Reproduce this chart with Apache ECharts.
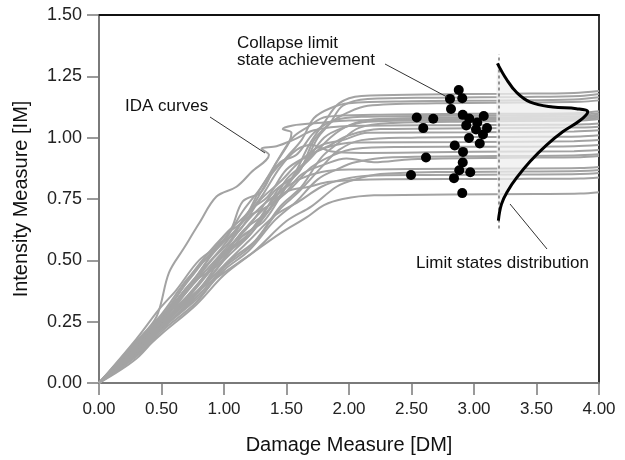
<!DOCTYPE html>
<html><head><meta charset="utf-8">
<script src="https://cdn.jsdelivr.net/npm/echarts@6/dist/echarts.min.js"></script>
<style>html,body{margin:0;padding:0;background:#fff}#c{width:625px;height:460px}</style>
</head><body><div id="c"></div>
<script>
// ---- data ----
const curveA = [[0,0],[0.3,0.14],[0.5,0.26],[0.72,0.36],[0.98,0.52],[1.18,0.6],[1.38,0.74],[1.55,0.84],[1.68,0.97],[1.8,1.06],[1.92,1.14],[2.1,1.17],[2.6,1.176],[3.3,1.179],[3.8,1.182],[4,1.19]];
const curveB = [[0,0],[0.3,0.12],[0.48,0.24],[0.7,0.33],[0.95,0.47],[1.15,0.6],[1.32,0.66],[1.5,0.8],[1.65,0.9],[1.75,1.0],[1.85,1.06],[1.95,1.13],[2.15,1.158],[2.7,1.163],[3.4,1.166],[3.85,1.17],[4,1.178]];
const curveC = [[0,0],[0.3,0.16],[0.52,0.28],[0.76,0.42],[1.0,0.6],[1.2,0.7],[1.38,0.85],[1.5,0.92],[1.62,0.99],[1.72,1.08],[1.85,1.12],[2.0,1.14],[2.5,1.148],[3.2,1.152],[3.8,1.156],[4,1.165]];
const curveD = [[0,0],[0.3,0.13],[0.5,0.24],[0.8,0.38],[1.05,0.56],[1.25,0.64],[1.45,0.8],[1.6,0.86],[1.72,0.99],[1.85,1.06],[1.98,1.1],[2.15,1.13],[2.7,1.14],[3.4,1.143],[3.85,1.146],[4,1.152]];
const curveE = [[0,0],[0.3,0.17],[0.5,0.28],[0.7,0.42],[0.9,0.53],[1.05,0.62],[1.15,0.74],[1.3,0.78],[1.42,0.9],[1.55,1.0],[1.66,1.04],[1.82,1.085],[2.2,1.093],[3.0,1.097],[3.8,1.1],[4,1.108]];
const curveF = [[0,0],[0.3,0.15],[0.5,0.26],[0.75,0.45],[1.0,0.6],[1.15,0.66],[1.3,0.8],[1.45,0.9],[1.58,0.93],[1.72,1.02],[1.88,1.07],[2.1,1.085],[2.8,1.089],[3.6,1.092],[3.9,1.095],[4,1.1]];
const curveG = [[0,0],[0.3,0.12],[0.5,0.22],[0.78,0.36],[1.0,0.5],[1.2,0.6],[1.4,0.73],[1.55,0.84],[1.7,0.92],[1.85,1.0],[2.0,1.05],[2.2,1.075],[2.9,1.082],[3.6,1.085],[3.9,1.088],[4,1.094]];
const curveH = [[0,0],[0.3,0.18],[0.48,0.3],[0.62,0.38],[0.8,0.5],[1.0,0.58],[1.15,0.7],[1.3,0.8],[1.42,0.9],[1.52,0.98],[1.54,1.02],[1.47,1.035],[1.55,1.05],[1.75,1.06],[2.0,1.07],[2.6,1.075],[3.4,1.078],[3.85,1.081],[4,1.088]];
const curveI = [[0,0],[0.3,0.14],[0.5,0.25],[0.72,0.4],[0.95,0.48],[1.15,0.62],[1.35,0.7],[1.5,0.83],[1.65,0.9],[1.8,1.0],[1.95,1.04],[2.15,1.065],[2.8,1.072],[3.6,1.074],[3.9,1.077],[4,1.082]];
const curveJ = [[0,0],[0.3,0.11],[0.5,0.22],[0.8,0.36],[1.05,0.5],[1.25,0.58],[1.45,0.72],[1.62,0.8],[1.78,0.92],[1.92,0.98],[2.08,1.04],[2.35,1.06],[3.0,1.066],[3.7,1.069],[3.9,1.071],[4,1.076]];
const curveK = [[0,0],[0.3,0.17],[0.46,0.27],[0.56,0.45],[0.68,0.55],[0.8,0.65],[0.94,0.76],[1.1,0.8],[1.22,0.86],[1.36,0.93],[1.3,0.955],[1.42,0.965],[1.55,0.99],[1.72,1.03],[2.0,1.048],[2.8,1.051],[3.6,1.053],[3.9,1.055],[4,1.058]];
const curveL = [[0,0],[0.3,0.15],[0.5,0.24],[0.75,0.38],[1.0,0.53],[1.2,0.64],[1.4,0.78],[1.55,0.84],[1.7,0.93],[1.85,0.97],[2.0,1.01],[2.25,1.035],[3.0,1.038],[3.8,1.041],[4,1.045]];
const curveM = [[0,0],[0.3,0.16],[0.5,0.27],[0.72,0.42],[0.95,0.56],[1.12,0.62],[1.28,0.74],[1.45,0.82],[1.6,0.9],[1.78,0.97],[1.95,0.99],[2.15,1.02],[3.0,1.022],[3.8,1.025],[4,1.03]];
const curveN = [[0,0],[0.3,0.1],[0.5,0.21],[0.78,0.33],[1.0,0.47],[1.22,0.56],[1.45,0.71],[1.6,0.78],[1.78,0.88],[1.92,0.95],[2.1,0.99],[2.5,1.0],[3.3,1.003],[3.85,1.005],[4,1.01]];
const curveO = [[0,0],[0.3,0.15],[0.5,0.25],[0.7,0.37],[0.9,0.5],[1.05,0.58],[1.2,0.7],[1.35,0.76],[1.5,0.87],[1.65,0.92],[1.82,0.96],[2.05,0.98],[3.0,0.982],[3.8,0.985],[4,0.99]];
const curveP = [[0,0],[0.3,0.13],[0.5,0.23],[0.75,0.37],[1.0,0.52],[1.2,0.6],[1.38,0.72],[1.55,0.8],[1.7,0.88],[1.88,0.93],[2.05,0.955],[2.4,0.962],[3.2,0.963],[3.8,0.965],[4,0.97]];
const curveQ = [[0,0],[0.3,0.16],[0.5,0.26],[0.72,0.4],[0.98,0.55],[1.15,0.66],[1.3,0.76],[1.45,0.88],[1.58,0.95],[1.7,0.97],[1.85,0.945],[2.1,0.938],[3.0,0.943],[3.8,0.945],[4,0.95]];
const curveR = [[0,0],[0.3,0.12],[0.5,0.22],[0.8,0.35],[1.0,0.46],[1.2,0.54],[1.4,0.66],[1.58,0.74],[1.75,0.83],[1.9,0.87],[2.05,0.9],[2.35,0.92],[3.2,0.925],[3.8,0.927],[4,0.932]];
const curveS = [[0,0],[0.3,0.14],[0.5,0.24],[0.72,0.36],[0.95,0.5],[1.12,0.6],[1.3,0.7],[1.48,0.77],[1.62,0.85],[1.8,0.89],[1.98,0.915],[2.2,0.9],[2.5,0.912],[3.3,0.918],[3.85,0.92],[4,0.925]];
const curveT = [[0,0],[0.3,0.15],[0.5,0.25],[0.75,0.4],[1.0,0.54],[1.15,0.64],[1.3,0.72],[1.45,0.78],[1.6,0.83],[1.78,0.86],[2.0,0.87],[2.5,0.872],[3.3,0.874],[3.85,0.876],[4,0.88]];
const curveU = [[0,0],[0.3,0.11],[0.5,0.2],[0.78,0.32],[1.0,0.44],[1.25,0.54],[1.5,0.66],[1.7,0.72],[1.9,0.8],[2.05,0.83],[2.25,0.852],[2.7,0.86],[3.4,0.862],[3.85,0.864],[4,0.868]];
const curveV = [[0,0],[0.3,0.13],[0.5,0.23],[0.75,0.35],[1.0,0.48],[1.2,0.58],[1.4,0.68],[1.6,0.74],[1.78,0.8],[1.95,0.83],[2.15,0.845],[2.6,0.848],[3.4,0.85],[3.85,0.852],[4,0.856]];
const curveW = [[0,0],[0.3,0.16],[0.5,0.26],[0.7,0.38],[0.9,0.52],[1.05,0.6],[1.2,0.68],[1.35,0.72],[1.5,0.78],[1.68,0.8],[1.85,0.82],[2.3,0.83],[3.3,0.832],[3.85,0.834],[4,0.838]];
const curveX = [[0,0],[0.35,0.16],[0.73,0.35],[1.0,0.45],[1.2,0.52],[1.45,0.61],[1.66,0.675],[1.8,0.725],[1.95,0.75],[2.2,0.765],[2.8,0.768],[3.5,0.77],[3.85,0.772],[4,0.778]];
const idaCurves = [curveA,curveB,curveC,curveD,curveE,curveF,curveG,curveH,curveI,curveJ,curveK,curveL,curveM,curveN,curveO,curveP,curveQ,curveR,curveS,curveT,curveU,curveV,curveW,curveX];

const collapseDM = [2.878,2.808,2.906,2.816,2.542,2.674,2.910,2.962,3.078,3.026,2.938,2.594,3.016,3.104,3.072,2.960,3.046,2.846,2.912,2.616,2.910,2.882,2.970,2.496,2.840,2.906];
const collapseIM = [1.194,1.158,1.161,1.117,1.082,1.077,1.093,1.078,1.088,1.062,1.050,1.039,1.033,1.039,1.013,0.999,0.976,0.968,0.942,0.919,0.899,0.867,0.859,0.848,0.835,0.774];

const distDM = [3.187,3.26,3.34,3.45,3.63,3.82,3.91,3.85,3.71,3.58,3.45,3.34,3.27,3.22,3.195];
const distIM = [1.303,1.238,1.185,1.145,1.125,1.118,1.105,1.071,1.024,0.970,0.904,0.836,0.783,0.729,0.662];
const limitDM = 3.2;
const limitRange = [0.63, 1.34];

// ---- chart ----
const chart = echarts.init(document.getElementById('c'), null, {renderer: 'canvas'});
const FONT = 'Liberation Sans, Arial, Helvetica, sans-serif';
const fmt = v => v.toFixed(2);

const series = idaCurves.map(c => ({
  type: 'line', data: c, smooth: 0.35, symbol: 'none', silent: true,
  lineStyle: {color: '#a3a3a3', width: 2}, z: 2
}));

series.push({
  type: 'custom', z: 3, silent: true,
  data: [0],
  renderItem: (params, api) => {
    const pts = distDM.map((x, i) => api.coord([x, distIM[i]]));
    return {type: 'polygon', shape: {points: pts, smooth: 0.3},
            style: {fill: 'rgba(238,238,238,0.75)', stroke: null}};
  }
});
series.push({
  type: 'line', z: 4, silent: true, symbol: 'none',
  data: [[limitDM, limitRange[0]], [limitDM, limitRange[1]]],
  lineStyle: {color: '#555', width: 1.2, type: [3, 3]}
});
series.push({
  type: 'line', z: 5, silent: true, symbol: 'none', smooth: 0.4,
  data: distDM.map((x, i) => [x, distIM[i]]),
  lineStyle: {color: '#000', width: 3}
});
series.push({
  type: 'scatter', z: 6, silent: true, symbol: 'circle', symbolSize: 10,
  data: collapseDM.map((x, i) => [x, collapseIM[i]]),
  itemStyle: {color: '#000', opacity: 1}
});

const txt = {fill: '#111', font: '17px ' + FONT};
chart.setOption({
  animation: false,
  backgroundColor: '#fff',
  grid: {left: 99, right: 26, top: 15, bottom: 72, containLabel: false},
  xAxis: [{
    type: 'value', min: 0, max: 4, interval: 0.5, position: 'bottom',
    axisLine: {show: true, onZero: false, lineStyle: {color: '#7a7a7a', width: 2}},
    axisTick: {show: true, inside: false, length: 12, lineStyle: {color: '#7a7a7a', width: 1.5}},
    axisLabel: {formatter: fmt, color: '#222', fontSize: 17, fontFamily: FONT, margin: 18},
    splitLine: {show: false},
    name: 'Damage Measure [DM]', nameLocation: 'middle', nameGap: 52,
    nameTextStyle: {fontSize: 20, color: '#111', fontFamily: FONT}
  }, {
    type: 'value', min: 0, max: 4, position: 'top',
    axisLine: {show: true, onZero: false, lineStyle: {color: '#111', width: 2}},
    axisTick: {show: false}, axisLabel: {show: false}, splitLine: {show: false}
  }],
  yAxis: [{
    type: 'value', min: 0, max: 1.5, interval: 0.25, position: 'left',
    axisLine: {show: true, onZero: false, lineStyle: {color: '#7a7a7a', width: 2}},
    axisTick: {show: true, inside: false, length: 12, lineStyle: {color: '#7a7a7a', width: 1.5}},
    axisLabel: {formatter: fmt, color: '#222', fontSize: 18, fontFamily: FONT, margin: 17},
    splitLine: {show: false},
    name: 'Intensity Measure [IM]', nameLocation: 'middle', nameGap: 68, nameRotate: 90,
    nameTextStyle: {fontSize: 20, color: '#111', fontFamily: FONT}
  }, {
    type: 'value', min: 0, max: 1.5, position: 'right',
    axisLine: {show: true, onZero: false, lineStyle: {color: '#333', width: 2}},
    axisTick: {show: false}, axisLabel: {show: false}, splitLine: {show: false}
  }],
  series: series,
  graphic: [
    {type: 'text', left: 125, top: 98, style: Object.assign({text: 'IDA curves'}, txt), z: 10},
    {type: 'line', shape: {x1: 210, y1: 117, x2: 265, y2: 153}, style: {stroke: '#333', lineWidth: 1}, z: 10},
    {type: 'text', left: 237, top: 35, style: Object.assign({text: 'Collapse limit\nstate achievement', lineHeight: 17}, txt), z: 10},
    {type: 'line', shape: {x1: 385, y1: 64, x2: 447, y2: 97}, style: {stroke: '#333', lineWidth: 1}, z: 10},
    {type: 'text', left: 416, top: 255, style: Object.assign({text: 'Limit states distribution'}, txt), z: 10},
    {type: 'line', shape: {x1: 510, y1: 204, x2: 547, y2: 249}, style: {stroke: '#333', lineWidth: 1}, z: 10}
  ]
});
</script>
</body></html>
